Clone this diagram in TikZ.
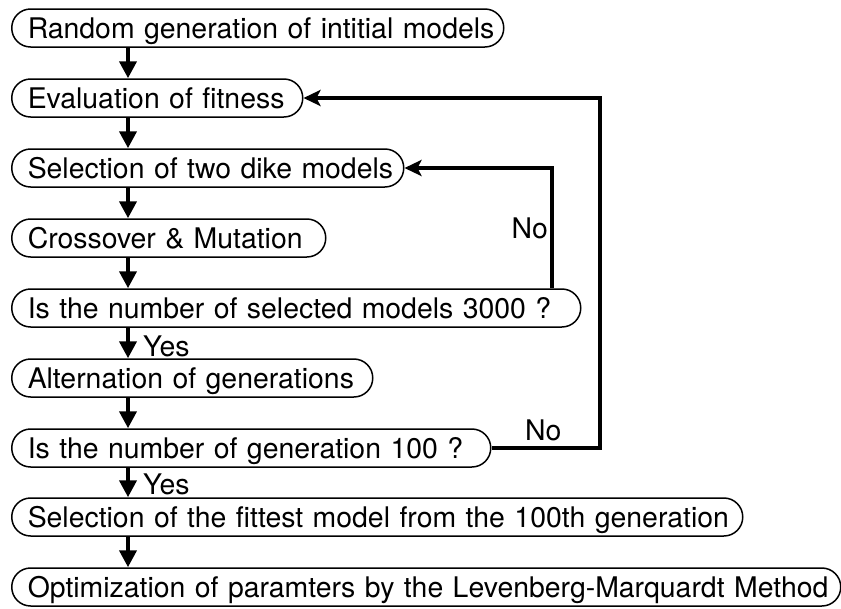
\documentclass[tikz,border=0pt]{standalone}
\usepackage{fontspec}
\setmainfont{TeX Gyre Heros}
\usetikzlibrary{arrows.meta}
\begin{document}
\begin{tikzpicture}[x=1pt,y=-1pt,
  pill/.style={draw, line width=1.5pt, rounded corners=18.9pt, minimum height=38pt,
    inner xsep=16pt, inner ysep=0pt, anchor=west, text height=20.4pt, text depth=0pt,
    align=left, font=\fontsize{28.4}{34}\selectfont},
  flow/.style={line width=4pt, -{Triangle[length=17pt,width=17pt]}},
  back/.style={line width=4pt, -{Stealth[length=17pt,width=16pt,inset=4pt]}},
  lbl/.style={inner sep=0pt, font=\fontsize{28.4}{34}\selectfont, text height=20.4pt, text depth=0pt}]
\useasboundingbox (0,0) rectangle (841,608);
\fill[white] (0,0) rectangle (841,608);

\node[pill, text width=460pt] (b1) at (11,28) {\mbox{Random generation of intitial models}};
\node[pill, text width=259pt] (b2) at (11,98) {\mbox{Evaluation of fitness}};
\node[pill, text width=360pt] (b3) at (11,168) {\mbox{Selection of two dike models}};
\node[pill, text width=282pt] (b4) at (11,238) {\mbox{Crossover \& Mutation}};
\node[pill, text width=537pt] (b5) at (11,308) {\mbox{Is the number of selected models 3000 ?}};
\node[pill, text width=329pt] (b6) at (11,378) {\mbox{Alternation of generations}};
\node[pill, text width=447pt] (b7) at (11,448) {\mbox{Is the number of generation 100 ?}};
\node[pill, text width=699pt] (b8) at (11,517) {\mbox{Selection of the fittest model from the 100th generation}};
\node[pill, text width=797pt] (b9) at (11,587) {\mbox{Optimization of paramters by the Levenberg-Marquardt Method}};

\coordinate (ax) at (128,0);
\coordinate (fx1) at (552,0);
\coordinate (fx2) at (600,0);

\draw[flow] (b1.south -| ax) -- (b2.north -| ax);
\draw[flow] (b2.south -| ax) -- (b3.north -| ax);
\draw[flow] (b3.south -| ax) -- (b4.north -| ax);
\draw[flow] (b4.south -| ax) -- (b5.north -| ax);
\draw[flow] (b5.south -| ax) -- (b6.north -| ax);
\draw[flow] (b6.south -| ax) -- (b7.north -| ax);
\draw[flow] (b7.south -| ax) -- (b8.north -| ax);
\draw[flow] (b8.south -| ax) -- (b9.north -| ax);

\draw[back] (b5.north -| fx1) |- (b3.east);
\draw[back] (b7.east) -- (b7.east -| fx2) |- (b2.east);

\node[lbl, anchor=west] (yes1) at (143,346) {Yes};
\node[lbl, anchor=west] (yes2) at (143,484) {Yes};
\node[lbl, anchor=east] (no1) at (548,228) {No};
\node[lbl, anchor=west] (no2) at (525,430) {No};
\end{tikzpicture}
\end{document}
